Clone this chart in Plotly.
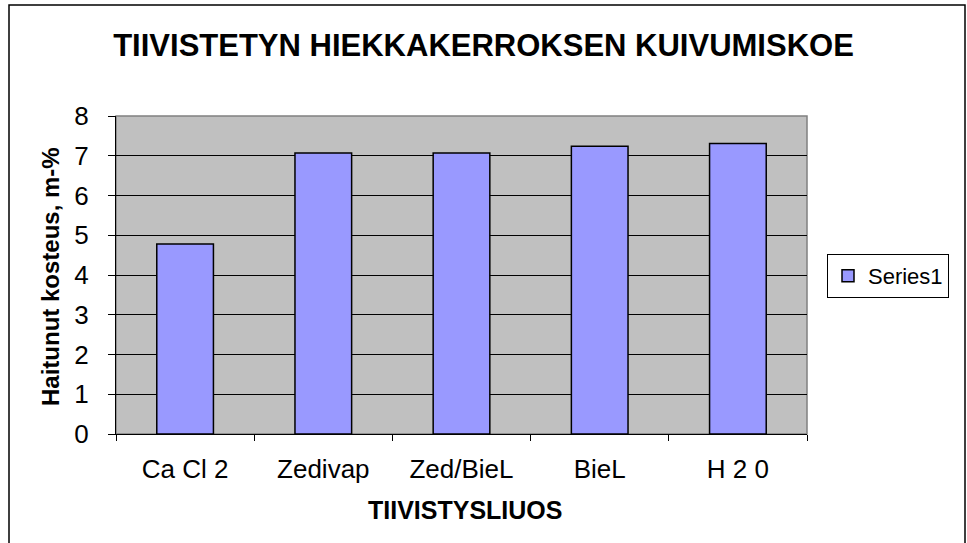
import plotly.graph_objects as go

categories = ["Ca Cl 2", "Zedivap", "Zed/BieL", "BieL", "H 2 0"]
values = [4.78, 7.07, 7.07, 7.24, 7.31]
series_name = "Series1"
y_ticks = [0, 1, 2, 3, 4, 5, 6, 7, 8]

W, H = 967, 543
L, R, T, B = 116, 160, 116, 109
pw, ph = W - L - R, H - T - B

def px_x(x):
    return (x - L) / pw

def px_y(y):
    return (H - B - y) / ph

FONT = "Liberation Sans, Arial, sans-serif"

fig = go.Figure()
fig.add_trace(go.Bar(
    x=categories, y=values, name=series_name,
    marker=dict(color="#9999FF", line=dict(color="black", width=1.5)),
    width=0.41, showlegend=True,
))

fig.update_layout(
    width=W, height=H,
    margin=dict(l=L, r=R, t=T, b=B),
    paper_bgcolor="white",
    plot_bgcolor="#C0C0C0",
    font=dict(family=FONT, color="black"),
    title=dict(text="<b>TIIVISTETYN HIEKKAKERROKSEN KUIVUMISKOE</b>",
               x=0.5, xref="container", xanchor="center",
               y=1 - 45 / H, yanchor="middle",
               font=dict(size=31, family=FONT, color="black")),
    showlegend=True,
    legend=dict(x=px_x(827), y=px_y(254), xanchor="left", yanchor="top",
                bordercolor="black", borderwidth=1, bgcolor="white",
                font=dict(size=22, family=FONT)),
    xaxis=dict(
        tickfont=dict(size=26), tickson="boundaries", ticks="outside",
        ticklen=6, tickcolor="black", showline=True, linecolor="black",
        linewidth=1, showgrid=False, ticklabelstandoff=12,
    ),
    yaxis=dict(
        range=[0, 8], tickvals=y_ticks, tickfont=dict(size=26),
        ticks="outside", ticklen=7, tickcolor="black",
        showline=True, linecolor="black", linewidth=1,
        showgrid=True, gridcolor="black", gridwidth=1, zeroline=False,
        ticklabelstandoff=14,
    ),
    annotations=[
        dict(text="<b>TIIVISTYSLIUOS</b>", xref="paper", yref="paper",
             x=px_x(465), y=px_y(510), xanchor="center", yanchor="middle",
             showarrow=False, font=dict(size=25, family=FONT)),
        dict(text="<b>Haitunut kosteus, m-%</b>", xref="paper", yref="paper",
             x=px_x(50), y=px_y(277), xanchor="center", yanchor="middle",
             textangle=-90, showarrow=False, font=dict(size=24, family=FONT)),
    ],
)

fig.add_shape(type="rect", xref="paper", yref="paper", x0=0, x1=1, y0=0, y1=1,
              line=dict(color="#808080", width=1.5), layer="below")
fig.add_shape(type="rect", xref="paper", yref="paper",
              x0=px_x(9), x1=px_x(965), y0=px_y(560), y1=px_y(5),
              line=dict(color="black", width=1.5), fillcolor="rgba(0,0,0,0)")

fig.write_html("out.html", config={"displayModeBar": False},
               post_script="document.body.style.margin='0';")
